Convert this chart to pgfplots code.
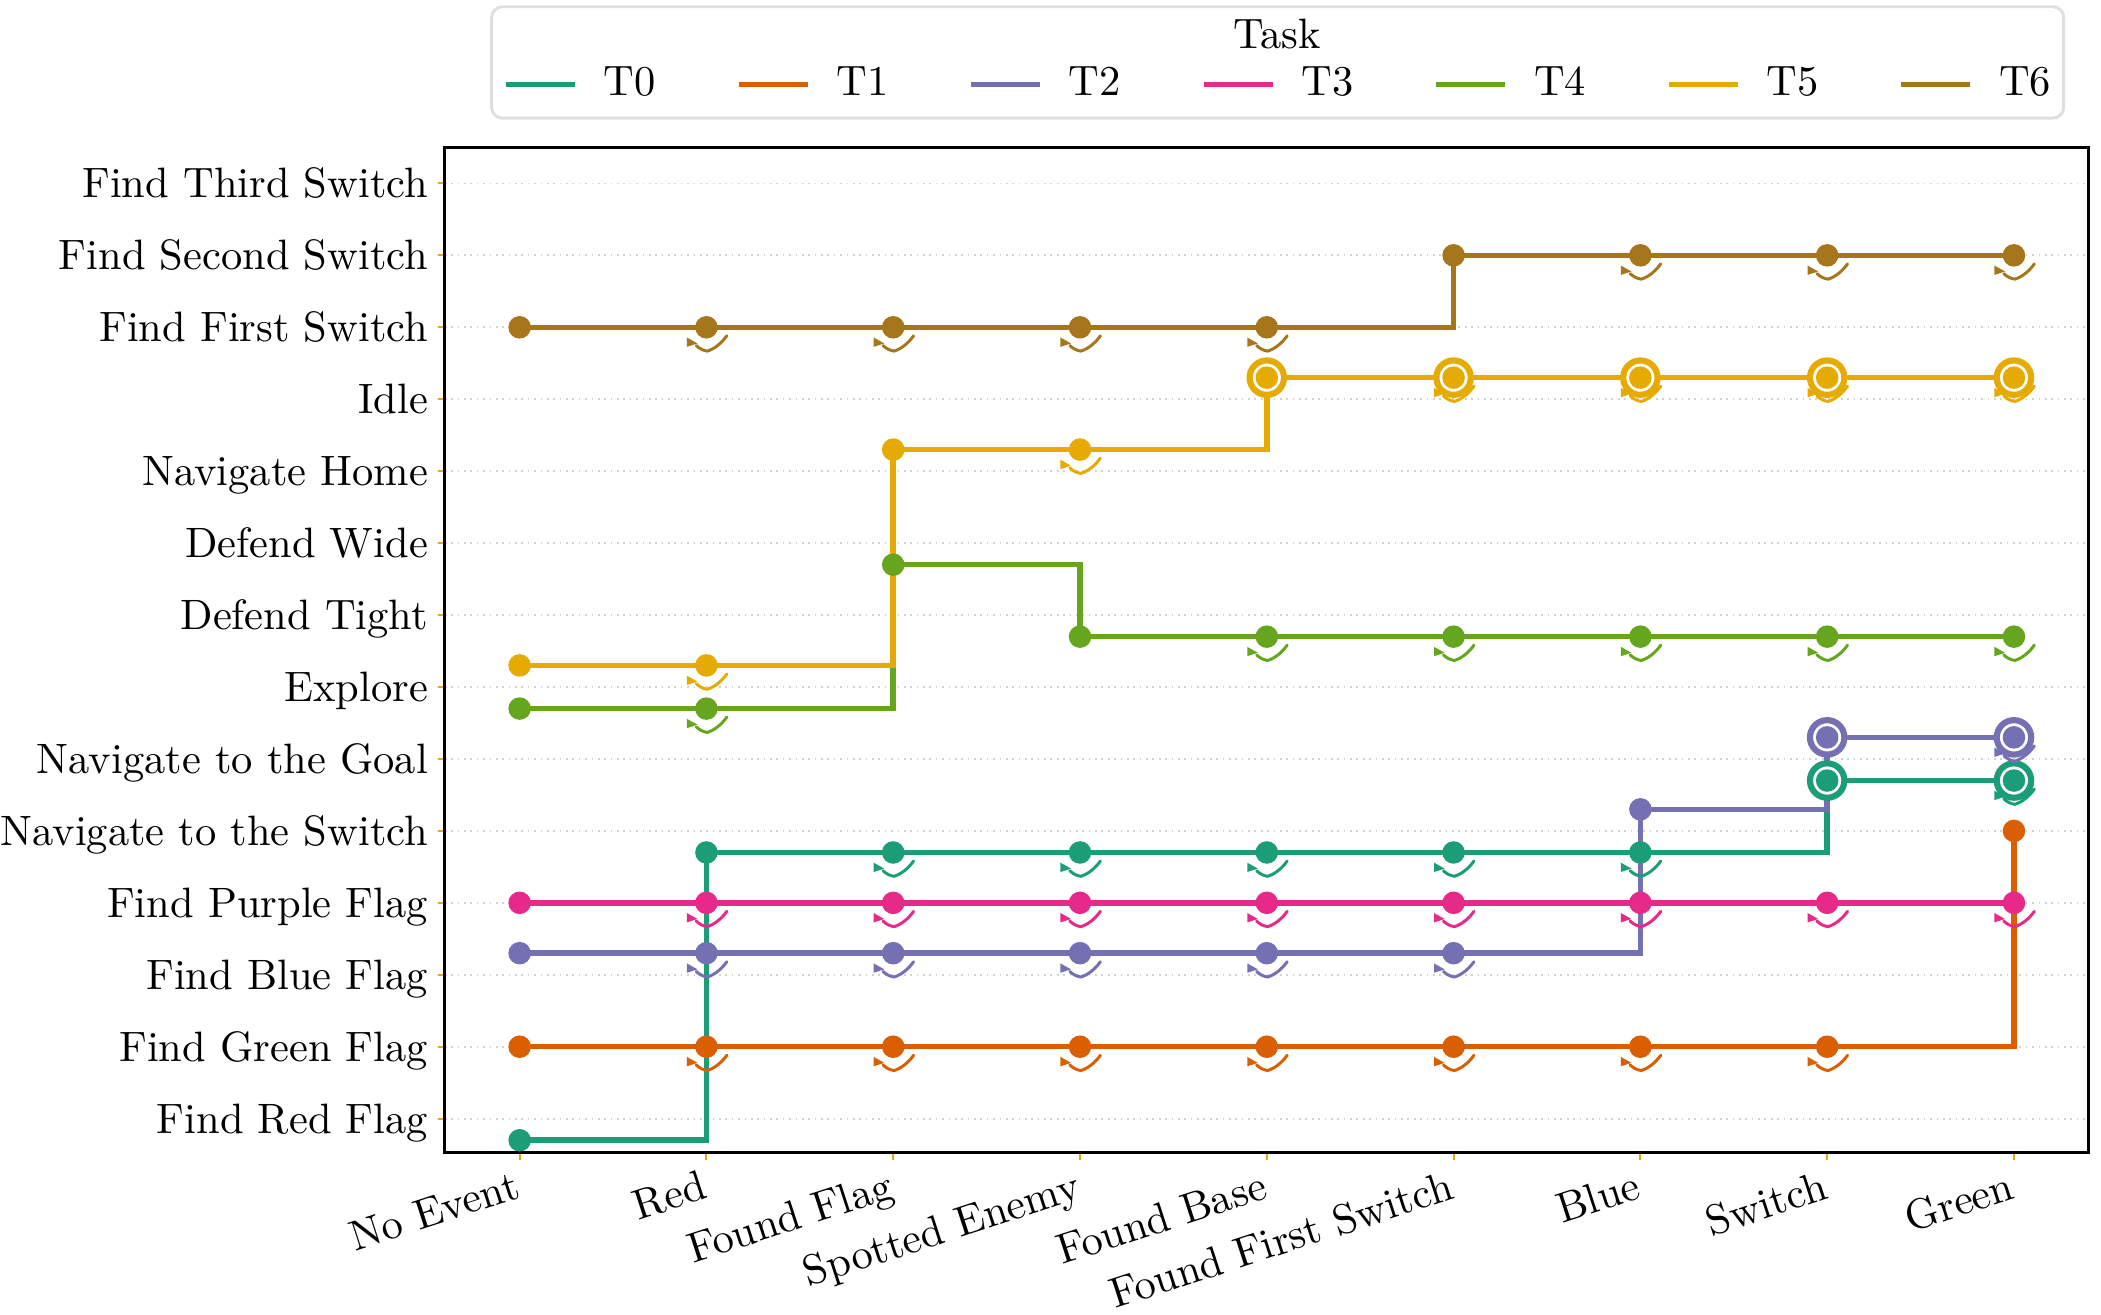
\documentclass[border=0pt]{standalone}
\usepackage{pgfplots}
\usepackage{pgfplotstable}
\pgfplotsset{compat=1.18}

% Dark2 palette, one colour per task
\definecolor{cT0}{HTML}{1B9E77}
\definecolor{cT1}{HTML}{D95F02}
\definecolor{cT2}{HTML}{7570B3}
\definecolor{cT3}{HTML}{E7298A}
\definecolor{cT4}{HTML}{66A61E}
\definecolor{cT5}{HTML}{E6AB02}
\definecolor{cT6}{HTML}{A6761D}
\definecolor{tickgold}{HTML}{E6AB02}

% self-transition marker: a small hooked arc under the state dot
\pgfdeclareplotmark{selfloop}{%
  \pgfsetlinewidth{0.7pt}%
  \pgfsetroundcap
  \pgfpathmoveto{\pgfpoint{-2.4pt}{-4.3pt}}%
  \pgfpathcurveto{\pgfpoint{-1.7pt}{-5.0pt}}{\pgfpoint{-0.7pt}{-5.5pt}}{\pgfpoint{0.2pt}{-5.6pt}}%
  \pgfpathcurveto{\pgfpoint{1.9pt}{-5.1pt}}{\pgfpoint{3.6pt}{-3.7pt}}{\pgfpoint{4.8pt}{-2.0pt}}%
  \pgfusepathqstroke
  \pgfpathmoveto{\pgfpoint{-4.6pt}{-2.4pt}}%
  \pgfpathlineto{\pgfpoint{-4.6pt}{-4.6pt}}%
  \pgfpathlineto{\pgfpoint{-2.1pt}{-3.8pt}}%
  \pgfpathclose
  \pgfusepathqfill
}
% terminal-state marker: white disc with a coloured ring
\pgfdeclareplotmark{ring}{%
  \pgfsetlinewidth{1.45pt}%
  \pgfpathcircle{\pgfpointorigin}{4.05pt}%
  \pgfsetfillcolor{white}%
  \pgfusepathqfillstroke
}

\pgfplotsset{
  task line/.style={const plot, no marks, line width=1.3pt, line join=miter},
  task dots/.style={only marks, mark=*, mark size=2.45pt, forget plot},
  task rings/.style={only marks, mark=ring, forget plot, mark indices={#1}},
  task loops/.style={only marks, mark=selfloop, forget plot, mark indices={#1}},
}

% x: event index, y: active state of the task
\pgfplotstableread{
x y
0 0
1 4
2 4
3 4
4 4
5 4
6 4
7 5
8 5
}\taskA
\pgfplotstableread{
x y
0 1
1 1
2 1
3 1
4 1
5 1
6 1
7 1
8 4
}\taskB
\pgfplotstableread{
x y
0 2
1 2
2 2
3 2
4 2
5 2
6 4
7 5
8 5
}\taskC
\pgfplotstableread{
x y
0 3
1 3
2 3
3 3
4 3
5 3
6 3
7 3
8 3
}\taskD
\pgfplotstableread{
x y
0 6
1 6
2 8
3 7
4 7
5 7
6 7
7 7
8 7
}\taskE
\pgfplotstableread{
x y
0 6
1 6
2 9
3 9
4 10
5 10
6 10
7 10
8 10
}\taskF
\pgfplotstableread{
x y
0 11
1 11
2 11
3 11
4 11
5 12
6 12
7 12
8 12
}\taskG

\begin{document}
\begin{tikzpicture}
\begin{axis}[
  scale only axis,
  width=386.8pt, height=236.5pt,
  xmin=-0.4, xmax=8.4, ymin=-0.47, ymax=13.5,
  xtick={0,...,8},
  xticklabels={No Event, Red, Found Flag, Spotted Enemy, Found Base, Found First Switch, Blue, Switch, Green},
  ytick={0,...,13},
  yticklabels={Find Red Flag, Find Green Flag, Find Blue Flag, Find Purple Flag, Navigate to the Switch, Navigate to the Goal, Explore, Defend Tight, Defend Wide, Navigate Home, Idle, Find First Switch, Find Second Switch, Find Third Switch},
  xtick pos=left, ytick pos=left,
  tick align=outside,
  major tick length=1.7pt,
  tick style={color=tickgold, line width=0.45pt},
  x tick label style={rotate=18, anchor=north east, inner sep=0pt, xshift=-2.05pt, yshift=-1.5pt},
  y tick label style={anchor=base east, inner sep=0pt, xshift=-2.1pt, yshift=-3.4pt},
  ymajorgrids,
  grid style={gray!35, line width=0.4pt, dash pattern=on 0.4pt off 1.1pt},
  axis line style={line width=0.7pt},
  clip=false,
  legend columns=7,
  legend cell align=left,
  legend image code/.code={\draw[line width=1.2pt] (0pt,0pt) -- (16.2pt,0pt);},
  legend style={draw=none, fill=none, inner sep=0pt,
    at={(axis description cs:0,1)}, anchor=west, xshift=13.6pt, yshift=14.8pt,
    /tikz/every odd column/.append style={column sep=4.2pt},
    /tikz/every even column/.append style={column sep=16.9pt}},
]
% T0
\addplot[task line, cT0, y filter/.expression={y-0.3}] table[x=x, y=y] {\taskA};
\addlegendentry{T0}
\addplot[task rings={8,9}, cT0, y filter/.expression={y-0.3}] table[x=x, y=y] {\taskA};
\addplot[task dots, cT0, y filter/.expression={y-0.3}] table[x=x, y=y] {\taskA};
\addplot[task loops={3,4,5,6,7,9}, cT0, y filter/.expression={y-0.3}] table[x=x, y=y] {\taskA};
% T1
\addplot[task line, cT1] table[x=x, y=y] {\taskB};
\addlegendentry{T1}
\addplot[task dots, cT1] table[x=x, y=y] {\taskB};
\addplot[task loops={2,3,4,5,6,7,8}, cT1] table[x=x, y=y] {\taskB};
% T2
\addplot[task line, cT2, y filter/.expression={y+0.3}] table[x=x, y=y] {\taskC};
\addlegendentry{T2}
\addplot[task rings={8,9}, cT2, y filter/.expression={y+0.3}] table[x=x, y=y] {\taskC};
\addplot[task dots, cT2, y filter/.expression={y+0.3}] table[x=x, y=y] {\taskC};
\addplot[task loops={2,3,4,5,6,9}, cT2, y filter/.expression={y+0.3}] table[x=x, y=y] {\taskC};
% T3
\addplot[task line, cT3] table[x=x, y=y] {\taskD};
\addlegendentry{T3}
\addplot[task dots, cT3] table[x=x, y=y] {\taskD};
\addplot[task loops={2,3,4,5,6,7,8,9}, cT3] table[x=x, y=y] {\taskD};
% T4
\addplot[task line, cT4, y filter/.expression={y-0.3}] table[x=x, y=y] {\taskE};
\addlegendentry{T4}
\addplot[task dots, cT4, y filter/.expression={y-0.3}] table[x=x, y=y] {\taskE};
\addplot[task loops={2,5,6,7,8,9}, cT4, y filter/.expression={y-0.3}] table[x=x, y=y] {\taskE};
% T5
\addplot[task line, cT5, y filter/.expression={y+0.3}] table[x=x, y=y] {\taskF};
\addlegendentry{T5}
\addplot[task rings={5,6,7,8,9}, cT5, y filter/.expression={y+0.3}] table[x=x, y=y] {\taskF};
\addplot[task dots, cT5, y filter/.expression={y+0.3}] table[x=x, y=y] {\taskF};
\addplot[task loops={2,4,6,7,8,9}, cT5, y filter/.expression={y+0.3}] table[x=x, y=y] {\taskF};
% T6
\addplot[task line, cT6] table[x=x, y=y] {\taskG};
\addlegendentry{T6}
\addplot[task dots, cT6] table[x=x, y=y] {\taskG};
\addplot[task loops={2,3,4,5,7,8,9}, cT6] table[x=x, y=y] {\taskG};
\end{axis}
% legend frame and title
\draw[gray!25, line width=0.7pt, rounded corners=2.5pt]
  ([xshift=11pt,yshift=6.9pt]current axis.north west) rectangle
  ([xshift=-5.9pt,yshift=33.1pt]current axis.north east);
\node at ([xshift=195.8pt,yshift=26.8pt]current axis.north west) {Task};
% page extent
\path ([xshift=-104.7pt,yshift=34.7pt]current axis.north west) rectangle
      ([xshift=2.9pt,yshift=-38.2pt]current axis.south east);
\end{tikzpicture}
\end{document}
